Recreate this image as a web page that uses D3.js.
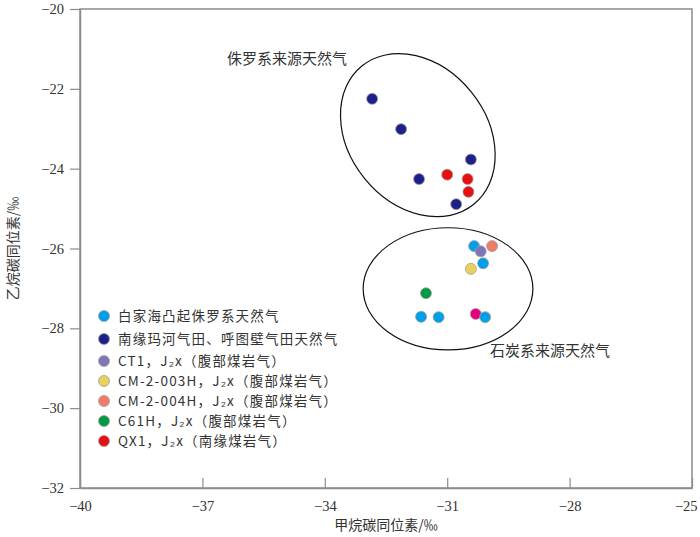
<!DOCTYPE html>
<html><head><meta charset="utf-8">
<script src="https://cdn.jsdelivr.net/npm/d3@7"></script>
<style>body{margin:0;background:#fff}</style>
</head><body><svg id="c" width="700" height="537"></svg>
<script>
// ---- data ----
const xTicks = [-40, -37, -34, -31, -28, -25];
const yTicks = [-20, -22, -24, -26, -28, -30, -32];
const xLabel = "甲烷碳同位素/‰";
const yLabel = "乙烷碳同位素/‰";
const baijiahai = [[-30.34,-25.94],[-30.12,-26.37],[-31.64,-27.71],[-31.21,-27.72],[-30.07,-27.72]];
const nanyuan = [[-32.84,-22.25],[-32.13,-23.01],[-31.69,-24.26],[-30.42,-23.77],[-30.78,-24.89]];
const ct1 = [[-30.18,-26.07]];
const cm003h = [[-30.42,-26.51]];
const cm004h = [[-29.90,-25.94]];
const c61h = [[-31.52,-27.12]];
const qx1 = [[-31.00,-24.15],[-30.50,-24.26],[-30.48,-24.58]];
const unlabeled = [[-30.30,-27.64]];
const seriesNames = ["白家海凸起侏罗系天然气","南缘玛河气田、呼图壁气田天然气",
  "CT1，J₂x（腹部煤岩气）","CM-2-003H，J₂x（腹部煤岩气）",
  "CM-2-004H，J₂x（腹部煤岩气）","C61H，J₂x（腹部煤岩气）","QX1，J₂x（南缘煤岩气）"];
// group regions: center (x,y), semi-axes in data units, rotation deg
const regionJurassic = {cx:-31.72, cy:-23.16, rx:2.18, ry:1.72, rot:51, label:"侏罗系来源天然气", lx:-36.4, ly:-21.25};
const regionCarbon = {cx:-30.98, cy:-27.01, rx:2.08, ry:1.53, rot:0, label:"石炭系来源天然气", lx:-29.95, ly:-28.55};

// ---- layout ----
const W = 700, H = 537;
const m = {l:80, r:8, t:9, b:49};
const svg = d3.select("#c");
const x = d3.scaleLinear().domain([-40,-25]).range([m.l, W - m.r]);
const y = d3.scaleLinear().domain([-32,-20]).range([H - m.b, m.t]);
const axisColor = "#8c8c8c";
const numFont = "'Liberation Serif','DejaVu Serif',serif";
const cjkFont = "'Noto Sans CJK SC',sans-serif";

// frame
svg.append("rect").attr("x", m.l).attr("y", m.t)
  .attr("width", W - m.r - m.l).attr("height", H - m.b - m.t)
  .attr("fill", "none").attr("stroke", axisColor).attr("stroke-width", 1.5);

const fmt = d3.format("d");
const xAxis = svg.append("g").attr("transform", `translate(0,${H - m.b})`)
  .call(d3.axisBottom(x).tickValues(xTicks).tickFormat(fmt).tickSizeInner(-10).tickSizeOuter(0).tickPadding(20));
const yAxis = svg.append("g").attr("transform", `translate(${m.l},0)`)
  .call(d3.axisLeft(y).tickValues(yTicks).tickFormat(fmt).tickSizeInner(10).tickSizeOuter(0).tickPadding(6));
[xAxis, yAxis].forEach(g => {
  g.select(".domain").attr("stroke", axisColor).attr("stroke-width", 1.5);
  g.selectAll(".tick line").attr("stroke", axisColor).attr("stroke-width", 1.2);
  g.selectAll(".tick text").attr("fill", "#333").attr("font-size", 14.5).attr("font-family", numFont);
});
xAxis.selectAll(".tick text").attr("dy", "0.2em");
xAxis.selectAll(".tick").filter(d => d === -25).select("text").attr("text-anchor", "end").attr("dx", "0.35em");
yAxis.selectAll(".tick text").attr("dy", "0.32em");

// axis labels
svg.append("text").attr("x", (x.range()[0] + x.range()[1]) / 2 ).attr("y", 530)
  .attr("text-anchor", "middle").attr("font-size", 14).attr("font-family", cjkFont)
  .attr("fill", "#333").text(xLabel);
svg.append("text").attr("transform", `translate(18,${(y.range()[0] + y.range()[1]) / 2}) rotate(-90)`)
  .attr("text-anchor", "middle").attr("font-size", 14).attr("font-family", cjkFont)
  .attr("fill", "#333").text(yLabel);

// regions
[regionJurassic, regionCarbon].forEach(r => {
  const cx = x(r.cx), cy = y(r.cy);
  svg.append("ellipse").attr("cx", 0).attr("cy", 0)
    .attr("rx", x(r.cx + r.rx) - cx).attr("ry", y(r.cy) - y(r.cy + r.ry))
    .attr("transform", `translate(${cx},${cy}) rotate(${r.rot})`)
    .attr("fill", "none").attr("stroke", "#111").attr("stroke-width", 1.2);
  svg.append("text").attr("x", x(r.lx)).attr("y", y(r.ly)).attr("dy", "0.35em")
    .attr("font-size", 15).attr("font-family", cjkFont).attr("fill", "#333").text(r.label);
});

// points
const colors = ["#00a0e9","#1d2088","#8075b8","#ead15b","#ef7c66","#009a46","#e60f12"];
const R = 5.5;
const drawPts = (data, col) => svg.append("g").selectAll("circle").data(data).join("circle")
  .attr("cx", d => x(d[0])).attr("cy", d => y(d[1])).attr("r", R)
  .attr("fill", col).attr("stroke", "#a0a0a0").attr("stroke-width", 0.8);
drawPts(unlabeled, "#e4007f");
drawPts(baijiahai, colors[0]);
drawPts(nanyuan, colors[1]);
drawPts(qx1, colors[6]);
drawPts(ct1, colors[2]);
drawPts(cm003h, colors[3]);
drawPts(cm004h, colors[4]);
drawPts(c61h, colors[5]);

// legend
const legY = [316, 339, 361, 381, 401, 421, 441];
const lg = svg.append("g");
seriesNames.forEach((name, i) => {
  lg.append("circle").attr("cx", 104).attr("cy", legY[i]).attr("r", R)
    .attr("fill", colors[i]).attr("stroke", "#a0a0a0").attr("stroke-width", 0.8);
  lg.append("text").attr("x", 118).attr("y", legY[i]).attr("dy", "0.36em")
    .attr("font-size", 13.5).attr("letter-spacing", 1.2).attr("font-family", cjkFont)
    .attr("fill", "#333").text(name);
});
</script></body></html>
